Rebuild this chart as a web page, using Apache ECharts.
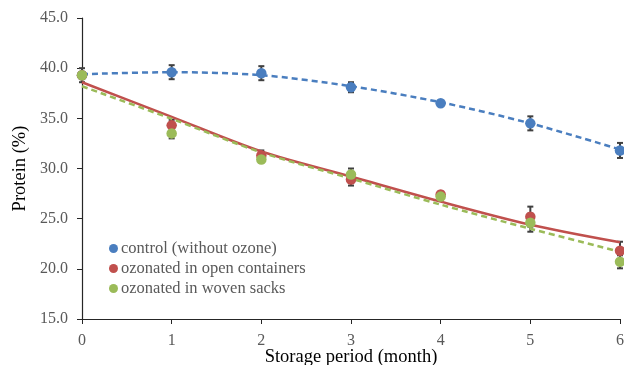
<!DOCTYPE html>
<html>
<head>
<meta charset="utf-8">
<script src="https://cdn.jsdelivr.net/npm/echarts@6/dist/echarts.min.js"></script>
<style>
  html, body { margin: 0; padding: 0; background: #fff; }
  #chart { width: 624px; height: 365px; }
</style>
</head>
<body>
<div id="chart"></div>
<script>
// storage months
const months = [0, 1, 2, 3, 4, 5, 6];

// measured protein (%) with error
const controlMean = [39.3, 39.6, 39.5, 38.1, 36.5, 34.5, 31.8];
const controlErr = [0.7, 0.7, 0.7, 0.5, 0.1, 0.7, 0.75];
const openMean = [39.3, 34.3, 31.3, 28.9, 27.4, 25.2, 21.8];
const openErr = [0.3, 0.55, 0.5, 0.6, 0.3, 1.0, 0.9];
const sackMean = [39.3, 33.5, 30.9, 29.4, 27.2, 24.6, 20.7];
const sackErr = [0.3, 0.5, 0.2, 0.6, 0.2, 0.9, 0.65];

// trend lines
const controlTrend = [39.4, 39.6, 39.3, 38.2, 36.6, 34.5, 31.9];
const openTrend = [38.6, 35.15, 31.7, 29.2, 26.7, 24.4, 22.65];
const sackTrend = [38.2, 34.95, 31.6, 29.0, 26.4, 24.0, 21.7];

const yTicks = [15, 20, 25, 30, 35, 40, 45];

const names = ['control (without ozone)', 'ozonated in open containers', 'ozonated in woven sacks'];
const colors = ['#4a7ebf', '#c0504d', '#9bbb59'];

const font = '"Liberation Serif", "Times New Roman", serif';

const pairs = (xs, ys) => xs.map((x, i) => [x, ys[i]]);

function errorSeries(mean, err) {
    return {
        type: 'custom',
        z: 1,
        silent: true,
        data: months.map((m, i) => [m, mean[i] - err[i], mean[i] + err[i]]),
        renderItem: (params, api) => {
            const lo = api.coord([api.value(0), api.value(1)]);
            const hi = api.coord([api.value(0), api.value(2)]);
            const w = 3;
            const style = { stroke: '#404040', lineWidth: 2 };
            return {
                type: 'group',
                children: [
                    { type: 'line', shape: { x1: lo[0], y1: lo[1], x2: hi[0], y2: hi[1] }, style },
                    { type: 'line', shape: { x1: lo[0] - w, y1: lo[1], x2: lo[0] + w, y2: lo[1] }, style },
                    { type: 'line', shape: { x1: hi[0] - w, y1: hi[1], x2: hi[0] + w, y2: hi[1] }, style }
                ]
            };
        }
    };
}

function trendSeries(vals, color, dashed) {
    return {
        type: 'line',
        z: 2,
        silent: true,
        smooth: 0.3,
        symbol: 'none',
        data: pairs(months, vals),
        lineStyle: { color, width: 2.5, type: dashed ? [6, 4] : 'solid' }
    };
}

function pointSeries(name, mean, color) {
    return {
        name,
        type: 'scatter',
        z: 3,
        symbolSize: 10.5,
        itemStyle: { color, opacity: 1 },
        data: pairs(months, mean)
    };
}

const chart = echarts.init(document.getElementById('chart'));
chart.setOption({
    animation: false,
    textStyle: { fontFamily: font },
    grid: { left: 82, right: 4, top: 18, bottom: 46, containLabel: false, outerBoundsMode: 'none' },
    legend: {
        data: names,
        orient: 'vertical',
        left: 104,
        top: 235,
        itemGap: 3,
        itemWidth: 9,
        itemHeight: 9,
        icon: 'circle',
        textStyle: { fontFamily: font, fontSize: 16.5, color: '#595959', padding: [0, 0, 0, -2] }
    },
    xAxis: {
        type: 'value',
        min: 0,
        max: 6,
        interval: 1,
        name: 'Storage period (month)',
        nameLocation: 'middle',
        nameGap: 29,
        nameMoveOverlap: false,
        nameTextStyle: { fontFamily: font, fontSize: 18.5, color: '#000' },
        axisLine: { lineStyle: { color: '#262626', width: 1.2 } },
        axisTick: { show: true, length: 5, lineStyle: { color: '#262626' } },
        axisLabel: { fontFamily: font, fontSize: 16, color: '#595959', margin: 14 },
        splitLine: { show: false }
    },
    yAxis: {
        type: 'value',
        min: yTicks[0],
        max: yTicks[yTicks.length - 1],
        interval: 5,
        name: 'Protein (%)',
        nameLocation: 'middle',
        nameGap: 52,
        nameMoveOverlap: false,
        nameTextStyle: { fontFamily: font, fontSize: 18.5, color: '#000' },
        axisLine: { show: true, lineStyle: { color: '#262626', width: 1.2 } },
        axisTick: { show: true, length: 5, lineStyle: { color: '#262626' } },
        axisLabel: { fontFamily: font, fontSize: 16, color: '#595959', margin: 14, formatter: v => v.toFixed(1) },
        splitLine: { show: false }
    },
    series: [
        errorSeries(controlMean, controlErr),
        errorSeries(openMean, openErr),
        errorSeries(sackMean, sackErr),
        trendSeries(controlTrend, colors[0], true),
        trendSeries(openTrend, colors[1], false),
        trendSeries(sackTrend, colors[2], true),
        pointSeries(names[0], controlMean, colors[0]),
        pointSeries(names[1], openMean, colors[1]),
        pointSeries(names[2], sackMean, colors[2])
    ]
});
</script>
</body>
</html>
